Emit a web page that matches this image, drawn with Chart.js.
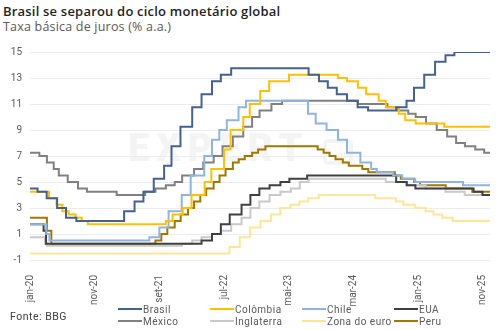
<!DOCTYPE html>
<html lang="pt-BR">
<head>
<meta charset="utf-8">
<title>Taxa básica de juros</title>
<script src="https://cdn.jsdelivr.net/npm/chart.js@4.4.1/dist/chart.umd.min.js"></script>
<style>
  body { margin: 0; background: #fff; }
  #wrap { position: relative; width: 502px; height: 330px; overflow: hidden; font-family: Roboto, 'Liberation Sans', sans-serif; }
  #titulo { position: absolute; left: 3px; top: 2px; font-family: 'Open Sans', Roboto, sans-serif; font-size: 13px; font-weight: 600; letter-spacing: 0.2px; color: #1f1f1f; white-space: nowrap; }
  #subtitulo { position: absolute; left: 3px; top: 18px; font-family: 'Open Sans', Roboto, sans-serif; font-size: 12.5px; letter-spacing: 0.2px; color: #595959; white-space: nowrap; }
  #marca { position: absolute; left: 128px; top: 126px; font-size: 38px; font-weight: 900; letter-spacing: 7px; color: #f4f4f4; white-space: nowrap; }
  #marca span { display: inline-block; margin-left: 14px; width: 30px; height: 26px; border: 4px solid #f4f4f4; border-radius: 6px; font-size: 9px; line-height: 26px; text-align: right; letter-spacing: 0; vertical-align: 2px; box-sizing: border-box; }
  #grafico { position: absolute; left: 0; top: 0; }
  #fonte { position: absolute; left: 10px; top: 310px; font-size: 10.5px; letter-spacing: 0.5px; color: #404040; }
  #legenda { position: absolute; left: 118px; top: 303px; display: grid; grid-template-columns: repeat(4, 92px); grid-auto-rows: 12px; font-size: 10px; letter-spacing: 0.5px; color: #595959; }
  .item { display: flex; align-items: center; white-space: nowrap; }
  .item i { display: inline-block; width: 24px; height: 2px; margin-right: 1px; }
</style>
</head>
<body>
<div id="wrap">
  <div id="titulo">Brasil se separou do ciclo monetário global</div>
  <div id="subtitulo">Taxa básica de juros (% a.a.)</div>
  <div id="marca">EXPERT<span>XP</span></div>
  <canvas id="grafico" width="502" height="330"></canvas>
  <div id="fonte">Fonte: BBG</div>
  <div id="legenda"></div>
</div>
<script>
'use strict';

// ***** DADOS *****
const xTickLabels = ['jan-20', 'nov-20', 'set-21', 'jul-22', 'mai-23', 'mar-24', 'jan-25', 'nov-25'];
const yTicks = [-1, 1, 3, 5, 7, 9, 11, 13, 15];
const dataInicial = '2020-01-01';
const dataFinal = '2025-12-05';

// [data em que a taxa passou a valer, taxa]
const brasil = [
  ['2020-01-01', 4.5], ['2020-02-06', 4.25], ['2020-03-19', 3.75], ['2020-05-07', 3.0], ['2020-06-18', 2.25],
  ['2020-08-06', 2.0], ['2021-03-18', 2.75], ['2021-05-06', 3.5], ['2021-06-17', 4.25], ['2021-08-05', 5.25],
  ['2021-09-23', 6.25], ['2021-10-28', 7.75], ['2021-12-09', 9.25], ['2022-02-03', 10.75], ['2022-03-17', 11.75],
  ['2022-05-05', 12.75], ['2022-06-16', 13.25], ['2022-08-04', 13.75], ['2023-08-03', 13.25], ['2023-09-21', 12.75],
  ['2023-11-02', 12.25], ['2023-12-14', 11.75], ['2024-02-01', 11.25], ['2024-03-21', 10.75], ['2024-05-09', 10.5],
  ['2024-09-19', 10.75], ['2024-11-07', 11.25], ['2024-12-12', 12.25], ['2025-01-30', 13.25], ['2025-03-20', 14.25],
  ['2025-05-08', 14.75], ['2025-06-19', 15.0]
];

const colombia = [
  ['2020-01-01', 4.25], ['2020-03-30', 3.75], ['2020-05-04', 3.25], ['2020-06-01', 2.75], ['2020-06-30', 2.5],
  ['2020-08-03', 2.25], ['2020-09-01', 2.0], ['2020-09-29', 1.75], ['2021-10-01', 2.0], ['2021-11-02', 2.5],
  ['2021-12-20', 3.0], ['2022-01-31', 4.0], ['2022-04-01', 5.0], ['2022-05-02', 6.0], ['2022-07-01', 7.5],
  ['2022-08-01', 9.0], ['2022-09-30', 10.0], ['2022-10-31', 11.0], ['2022-12-19', 12.0], ['2023-01-31', 12.75],
  ['2023-05-02', 13.25], ['2023-12-19', 13.0], ['2024-02-01', 12.75], ['2024-03-22', 12.25], ['2024-04-30', 11.75],
  ['2024-06-28', 11.25], ['2024-08-01', 10.75], ['2024-10-01', 10.25], ['2024-11-01', 9.75], ['2024-12-20', 9.5],
  ['2025-05-02', 9.25]
];

const chile = [
  ['2020-01-01', 1.75], ['2020-03-17', 1.0], ['2020-04-01', 0.5], ['2021-07-15', 0.75], ['2021-09-01', 1.5],
  ['2021-10-14', 2.75], ['2021-12-15', 4.0], ['2022-01-27', 5.5], ['2022-03-30', 7.0], ['2022-05-05', 8.25],
  ['2022-06-09', 9.0], ['2022-07-14', 9.75], ['2022-09-08', 10.75], ['2022-10-13', 11.25], ['2023-07-31', 10.25],
  ['2023-09-06', 9.5], ['2023-10-27', 9.0], ['2023-12-20', 8.25], ['2024-02-01', 7.25], ['2024-04-03', 6.5],
  ['2024-05-24', 6.0], ['2024-06-19', 5.75], ['2024-09-05', 5.5], ['2024-10-18', 5.25], ['2024-12-18', 5.0],
  ['2025-07-30', 4.75]
];

const eua = [
  ['2020-01-01', 1.75], ['2020-03-04', 1.25], ['2020-03-16', 0.25], ['2022-03-17', 0.5], ['2022-05-05', 1.0],
  ['2022-06-16', 1.75], ['2022-07-28', 2.5], ['2022-09-22', 3.25], ['2022-11-03', 4.0], ['2022-12-15', 4.5],
  ['2023-02-02', 4.75], ['2023-03-23', 5.0], ['2023-05-04', 5.25], ['2023-07-27', 5.5], ['2024-09-19', 5.0],
  ['2024-11-08', 4.75], ['2024-12-19', 4.5], ['2025-09-18', 4.25], ['2025-10-30', 4.0]
];

const mexico = [
  ['2020-01-01', 7.25], ['2020-02-14', 7.0], ['2020-03-20', 6.5], ['2020-04-21', 6.0], ['2020-05-15', 5.5],
  ['2020-06-26', 5.0], ['2020-08-14', 4.5], ['2020-09-25', 4.25], ['2021-02-12', 4.0], ['2021-06-25', 4.25],
  ['2021-08-13', 4.5], ['2021-10-01', 4.75], ['2021-11-12', 5.0], ['2021-12-17', 5.5], ['2022-02-11', 6.0],
  ['2022-03-25', 6.5], ['2022-05-13', 7.0], ['2022-06-24', 7.75], ['2022-08-12', 8.5], ['2022-09-30', 9.25],
  ['2022-11-11', 10.0], ['2022-12-16', 10.5], ['2023-02-10', 11.0], ['2023-03-31', 11.25], ['2024-03-22', 11.0],
  ['2024-08-09', 10.75], ['2024-09-27', 10.5], ['2024-11-15', 10.25], ['2024-12-20', 10.0], ['2025-02-07', 9.5],
  ['2025-03-28', 9.0], ['2025-05-16', 8.5], ['2025-06-27', 8.0], ['2025-08-08', 7.75], ['2025-09-26', 7.5],
  ['2025-11-07', 7.25]
];

const inglaterra = [
  ['2020-01-01', 0.75], ['2020-03-11', 0.25], ['2020-03-19', 0.1], ['2021-12-16', 0.25], ['2022-02-03', 0.5],
  ['2022-03-17', 0.75], ['2022-05-05', 1.0], ['2022-06-16', 1.25], ['2022-08-04', 1.75], ['2022-09-22', 2.25],
  ['2022-11-03', 3.0], ['2022-12-15', 3.5], ['2023-02-02', 4.0], ['2023-03-23', 4.25], ['2023-05-11', 4.5],
  ['2023-06-22', 5.0], ['2023-08-03', 5.25], ['2024-08-01', 5.0], ['2024-11-07', 4.75], ['2025-02-06', 4.5],
  ['2025-05-08', 4.25], ['2025-08-07', 4.0]
];

const zonaDoEuro = [
  ['2020-01-01', -0.5], ['2022-07-27', 0.0], ['2022-09-14', 0.75], ['2022-11-02', 1.5], ['2022-12-21', 2.0],
  ['2023-02-08', 2.5], ['2023-03-22', 3.0], ['2023-05-10', 3.25], ['2023-06-21', 3.5], ['2023-08-02', 3.75],
  ['2023-09-20', 4.0], ['2024-06-12', 3.75], ['2024-09-18', 3.5], ['2024-10-23', 3.25], ['2024-12-18', 3.0],
  ['2025-02-05', 2.75], ['2025-03-12', 2.5], ['2025-04-23', 2.25], ['2025-06-11', 2.0]
];

const peru = [
  ['2020-01-01', 2.25], ['2020-03-20', 1.25], ['2020-04-10', 0.25], ['2021-08-13', 0.5], ['2021-09-10', 1.0],
  ['2021-10-08', 1.5], ['2021-11-12', 2.0], ['2021-12-10', 2.5], ['2022-01-14', 3.0], ['2022-02-11', 3.5],
  ['2022-03-11', 4.0], ['2022-04-08', 4.5], ['2022-05-13', 5.0], ['2022-06-10', 5.5], ['2022-07-08', 6.0],
  ['2022-08-12', 6.5], ['2022-09-09', 6.75], ['2022-10-07', 7.0], ['2022-11-11', 7.25], ['2022-12-09', 7.5],
  ['2023-01-13', 7.75], ['2023-09-15', 7.5], ['2023-10-13', 7.25], ['2023-11-10', 7.0], ['2023-12-08', 6.75],
  ['2024-01-12', 6.5], ['2024-02-09', 6.25], ['2024-04-12', 6.0], ['2024-05-10', 5.75], ['2024-09-13', 5.5],
  ['2024-10-11', 5.25], ['2024-12-13', 5.0], ['2025-01-10', 4.75], ['2025-05-09', 4.5], ['2025-09-12', 4.25]
];

const seriesNames = ['Brasil', 'Colômbia', 'Chile', 'EUA', 'México', 'Inglaterra', 'Zona do euro', 'Peru'];
const seriesData = [brasil, colombia, chile, eua, mexico, inglaterra, zonaDoEuro, peru];
const seriesColors = ['#44618f', '#ffc000', '#8eb4e3', '#404040', '#808080', '#c9c9c9', '#ffe599', '#a07800'];

const meses = ['jan', 'fev', 'mar', 'abr', 'mai', 'jun', 'jul', 'ago', 'set', 'out', 'nov', 'dez'];

// ***** AUXILIARES *****
const anoBase = Number(dataInicial.slice(0, 4));

// data 'aaaa-mm-dd' -> meses (fracionários) desde jan/2020
function toMonth(dateStr) {
  const [y, m, d] = dateStr.split('-').map(Number);
  const diasNoMes = new Date(y, m, 0).getDate();
  return (y - anoBase) * 12 + (m - 1) + (d - 1) / diasNoMes;
}

// rótulo 'mmm-aa' -> meses desde jan/2020
function labelToMonth(label) {
  const [mes, ano] = label.split('-');
  return (2000 + Number(ano) - anoBase) * 12 + meses.indexOf(mes);
}

function toPoints(serie) {
  let pts = serie.map(([d, v]) => ({ x: toMonth(d), y: v }));
  // a última taxa vale até a data final da série
  pts.push({ x: toMonth(dataFinal), y: serie[serie.length - 1][1] });
  return pts;
}

// ***** GRÁFICO *****
let datasets = [];
for (let i = 0; i < seriesNames.length; i++) {
  datasets.push({
    label: seriesNames[i],
    data: toPoints(seriesData[i]),
    borderColor: seriesColors[i],
    backgroundColor: seriesColors[i],
    borderWidth: 2,
    pointRadius: 0,
    stepped: true,
    fill: false
  });
}

let eixoFonte = { family: "Roboto, 'Liberation Sans', sans-serif", size: 10 };

new Chart(document.getElementById('grafico'), {
  type: 'line',
  data: { datasets: datasets },
  options: {
    responsive: false,
    animation: false,
    devicePixelRatio: 1,
    layout: { padding: { top: 52, right: 9, bottom: 20, left: 0 } },
    plugins: {
      legend: { display: false },
      tooltip: { enabled: false }
    },
    scales: {
      x: {
        type: 'linear',
        min: toMonth(dataInicial),
        max: toMonth(dataFinal),
        grid: { display: false },
        border: { display: false },
        afterBuildTicks: (scale) => {
          scale.ticks = xTickLabels.map((l) => ({ value: labelToMonth(l) }));
        },
        afterFit: (scale) => { scale.height = 50; },
        ticks: {
          autoSkip: false,
          minRotation: 90,
          maxRotation: 90,
          padding: 7,
          color: '#595959',
          font: eixoFonte,
          callback: (value, index) => xTickLabels[index]
        }
      },
      y: {
        min: yTicks[0],
        max: yTicks[yTicks.length - 1],
        grid: { color: '#ececec', lineWidth: 1, drawTicks: false },
        border: { display: false },
        afterBuildTicks: (scale) => {
          scale.ticks = yTicks.map((v) => ({ value: v }));
        },
        afterFit: (scale) => { scale.width = 30; },
        ticks: {
          padding: 8,
          color: '#595959',
          font: eixoFonte
        }
      }
    }
  }
});

// ***** LEGENDA *****
let legenda = document.getElementById('legenda');
for (let i = 0; i < seriesNames.length; i++) {
  let item = document.createElement('div');
  item.className = 'item';
  let amostra = document.createElement('i');
  amostra.style.background = seriesColors[i];
  item.appendChild(amostra);
  item.appendChild(document.createTextNode(seriesNames[i]));
  legenda.appendChild(item);
}
</script>
</body>
</html>
